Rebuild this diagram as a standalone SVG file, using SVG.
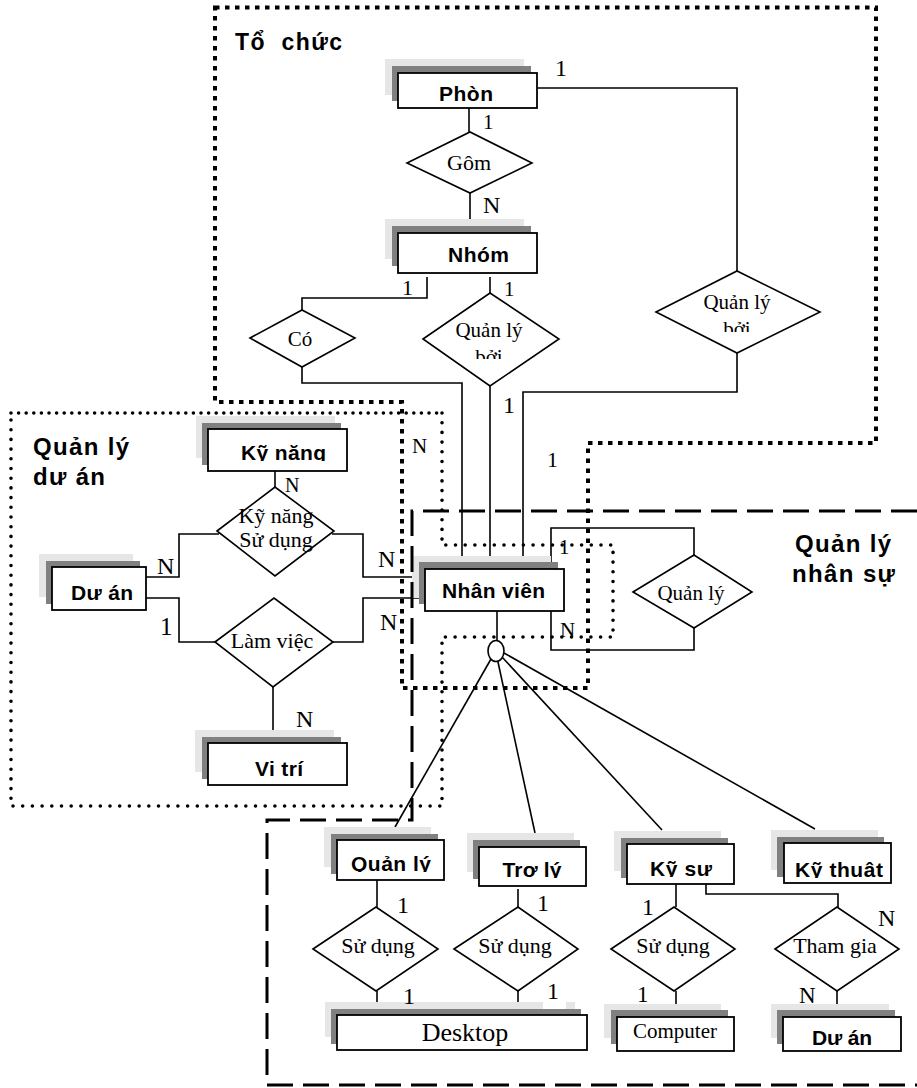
<svg xmlns="http://www.w3.org/2000/svg" width="917" height="1088" viewBox="0 0 917 1088">
<style>
.lt{fill:#e6e6e6}
.dk{fill:#808080}
.bx{fill:#fff;stroke:#000;stroke-width:1.8}
.dm{fill:#fff;stroke:#000;stroke-width:1.6}
.cn{fill:none;stroke:#000;stroke-width:1.6}
.b{font-family:"Liberation Sans",Arial,sans-serif;font-weight:bold;font-size:21px;text-anchor:middle;fill:#000}
.s{font-family:"Liberation Serif","Times New Roman",serif;font-size:21px;text-anchor:middle;fill:#000}
.c{font-family:"Liberation Serif","Times New Roman",serif;font-size:24px;fill:#000}
.r{font-family:"Liberation Sans",Arial,sans-serif;font-weight:bold;font-size:24px;fill:#000}
.sq{fill:none;stroke:#000;stroke-width:4;stroke-dasharray:4.5 5.5}
.rd{fill:none;stroke:#000;stroke-width:3.6;stroke-linecap:round}
.da{fill:none;stroke:#000;stroke-width:3;stroke-dasharray:26 10}
</style>
<defs>
<clipPath id="cpKN"><rect x="200" y="420" width="160" height="41"/></clipPath>
<clipPath id="cpQL"><rect x="330" y="830" width="120" height="42"/></clipPath>
<clipPath id="cpTL"><rect x="470" y="840" width="120" height="38"/></clipPath>
<clipPath id="cpKS"><rect x="620" y="840" width="120" height="37"/></clipPath>
<clipPath id="cpKT"><rect x="775" y="840" width="120" height="38"/></clipPath>
<clipPath id="cpQB1"><rect x="420" y="300" width="140" height="59"/></clipPath>
<clipPath id="cpQB2"><rect x="650" y="280" width="175" height="52"/></clipPath>
</defs>

<g id="connectors">
<path class="cn" d="M469,108 V132"/>
<path class="cn" d="M470,193 V233"/>
<path class="cn" d="M537,88 H737 V271"/>
<path class="cn" d="M737,353 V392 H523 V569"/>
<path class="cn" d="M427,277 V298 H302 V310"/>
<path class="cn" d="M302,367 V383 H462 V569"/>
<path class="cn" d="M490,277 V293"/>
<path class="cn" d="M490,386 V569"/>
<path class="cn" d="M275,471 V487"/>
<path class="cn" d="M219,534 H179 V577 H146"/>
<path class="cn" d="M332,534 H363 V577 H425"/>
<path class="cn" d="M146,598 H179 V642 H215"/>
<path class="cn" d="M333,642 H363 V598 H425"/>
<path class="cn" d="M273,687 V743"/>
<path class="cn" d="M551,569 V528 H694 V555"/>
<path class="cn" d="M694,628 V650 H551 V611"/>
<path class="cn" d="M497,611 V641"/>
<path class="cn" d="M491,659 L395,827"/>
<path class="cn" d="M498,662 L535,833"/>
<path class="cn" d="M502,657 L662,830"/>
<path class="cn" d="M504,653 L815,829"/>
<path class="cn" d="M377,880 V907"/>
<path class="cn" d="M377,991 V1015"/>
<path class="cn" d="M518,889 V907"/>
<path class="cn" d="M518,991 V1015"/>
<path class="cn" d="M676,884 V907"/>
<path class="cn" d="M706,884 V894 H838 V907"/>
<path class="cn" d="M676,991 V1017"/>
<path class="cn" d="M837,991 V1017"/>
</g>

<g id="rel-gom"><polygon class="dm" points="407,163 470,132 532,163 470,193"/><text class="s" x="469" y="170" style="font-size:22px">Gôm</text></g>
<g id="rel-co"><polygon class="dm" points="250,338 302,310 355,338 302,367"/><text class="s" x="300" y="346">Có</text></g>
<g id="rel-qlb-mid"><polygon class="dm" points="423,339 490,293 559,339 490,386"/><text class="s" clip-path="url(#cpQB1)"><tspan x="489" y="337">Quản lý</tspan><tspan x="489" y="364">bởi</tspan></text></g>
<g id="rel-qlb-right"><polygon class="dm" points="656,312 737,271 820,312 737,353"/><text class="s" clip-path="url(#cpQB2)"><tspan x="737" y="309">Quản lý</tspan><tspan x="737" y="336">bởi</tspan></text></g>
<g id="rel-knsd"><polygon class="dm" points="217,531 275,487 334,531 275,576"/><text class="s" style="font-size:22px"><tspan x="276" y="523">Kỹ năng</tspan><tspan x="276" y="547">Sử dụng</tspan></text></g>
<g id="rel-lamviec"><polygon class="dm" points="215,642 274,598 333,642 273,687"/><text class="s" x="272" y="648" style="font-size:22px">Làm việc</text></g>
<g id="rel-quanly"><polygon class="dm" points="633,592 694,555 752,592 694,628"/><text class="s" x="691" y="600">Quản lý</text></g>
<g id="rel-sd1"><polygon class="dm" points="313,949 376,907 438,949 376,991"/><text class="s" x="378" y="953" style="font-size:22px">Sử dụng</text></g>
<g id="rel-sd2"><polygon class="dm" points="454,949 518,907 578,949 518,991"/><text class="s" x="515" y="953" style="font-size:22px">Sử dụng</text></g>
<g id="rel-sd3"><polygon class="dm" points="611,949 674,907 735,949 674,991"/><text class="s" x="673" y="953" style="font-size:22px">Sử dụng</text></g>
<g id="rel-thamgia"><polygon class="dm" points="775,949 837,907 899,949 837,991"/><text class="s" x="835" y="953" style="font-size:22px">Tham gia</text></g>

<g id="isa"><ellipse cx="496" cy="651" rx="8" ry="10.5" fill="#fff" stroke="#000" stroke-width="1.6"/></g>

<g id="ent-phon"><rect class="lt" x="385" y="59" width="139" height="36"/><rect class="dk" x="392" y="66" width="139" height="35"/><rect class="bx" x="398" y="73" width="139" height="35"/><text class="b" x="466" y="101" textLength="54">Phòn</text></g>
<g id="ent-nhom"><rect class="lt" x="385" y="219" width="139" height="40"/><rect class="dk" x="392" y="226" width="139" height="40"/><rect class="bx" x="398" y="233" width="139" height="40"/><text class="b" x="478.5" y="262" textLength="61">Nhóm</text></g>
<g id="ent-kynang"><rect class="lt" x="196" y="416" width="139" height="42"/><rect class="dk" x="202" y="423" width="139" height="42"/><rect class="bx" x="208" y="429" width="139" height="42"/><text class="b" x="283.5" y="460" textLength="85" clip-path="url(#cpKN)">Kỹ năng</text></g>
<g id="ent-duan1"><rect class="lt" x="39" y="554" width="94" height="43"/><rect class="dk" x="46" y="561" width="94" height="43"/><rect class="bx" x="52" y="567" width="94" height="43"/><text class="b" x="102" y="600" textLength="62">Dư án</text></g>
<g id="ent-vitri"><rect class="lt" x="195" y="730" width="139" height="42"/><rect class="dk" x="202" y="737" width="139" height="42"/><rect class="bx" x="208" y="743" width="139" height="42"/><text class="b" x="279" y="776" textLength="48">Vi trí</text></g>
<g id="ent-nhanvien"><rect class="lt" x="412" y="556" width="139" height="42"/><rect class="dk" x="419" y="562" width="139" height="42"/><rect class="bx" x="425" y="569" width="139" height="42"/><text class="b" x="493.5" y="598" textLength="103">Nhân viên</text></g>
<g id="ent-quanly"><rect class="lt" x="324" y="827" width="107" height="40"/><rect class="dk" x="331" y="834" width="107" height="40"/><rect class="bx" x="337" y="840" width="107" height="40"/><text class="b" x="391" y="871" textLength="80" clip-path="url(#cpQL)">Quản lý</text></g>
<g id="ent-troly"><rect class="lt" x="467" y="833" width="107" height="39"/><rect class="dk" x="473" y="840" width="107" height="39"/><rect class="bx" x="479" y="847" width="107" height="39"/><text class="b" x="532" y="877" textLength="59" clip-path="url(#cpTL)">Trơ lý</text></g>
<g id="ent-kysu"><rect class="lt" x="614" y="831" width="107" height="40"/><rect class="dk" x="621" y="838" width="107" height="40"/><rect class="bx" x="627" y="844" width="107" height="40"/><text class="b" x="681" y="876" textLength="62" clip-path="url(#cpKS)">Kỹ sư</text></g>
<g id="ent-kythuat"><rect class="lt" x="771" y="830" width="107" height="40"/><rect class="dk" x="777" y="837" width="107" height="40"/><rect class="bx" x="784" y="843" width="107" height="40"/><text class="b" x="839" y="877" textLength="88" clip-path="url(#cpKT)">Kỹ thuât</text></g>
<g id="ent-desktop"><rect class="lt" x="325" y="1002" width="250" height="35"/><rect class="dk" x="331" y="1009" width="250" height="35"/><rect class="bx" x="337" y="1015" width="250" height="35"/><text class="s" x="465" y="1041" style="font-size:26px">Desktop</text></g>
<g id="ent-computer"><rect class="lt" x="604" y="1004" width="117" height="34"/><rect class="dk" x="611" y="1010" width="117" height="34"/><rect class="bx" x="617" y="1017" width="117" height="34"/><text class="s" x="675" y="1038">Computer</text></g>
<g id="ent-duan2"><rect class="lt" x="771" y="1004" width="118" height="34"/><rect class="dk" x="777" y="1010" width="118" height="34"/><rect class="bx" x="783" y="1017" width="118" height="34"/><text class="b" x="842" y="1045" textLength="60">Dư án</text></g>

<g id="regions">
<path class="sq" d="M215,7.5 H876 V443 H588 V688 H402 V402 H215 Z"/>
<path class="rd" stroke-dasharray="0 7.6" d="M11,413 H442"/>
<path class="rd" stroke-dasharray="0 9.7" d="M442,413 V545 H613 V637 H442 V806 H11 V413"/>
<path class="da" d="M917,511 H412 V820 H267 V1085 H917"/>
<text class="r" x="235" y="50" style="font-size:23px" textLength="107" xml:space="preserve">Tổ  chức</text>
<text class="r" x="33" y="455" textLength="96">Quản lý</text>
<text class="r" x="33" y="485" textLength="72">dư án</text>
<text class="r" x="795" y="552" textLength="96">Quản lý</text>
<text class="r" x="792" y="582" textLength="103">nhân sự</text>
</g>

<g id="cardinalities">
<text class="c" x="555" y="76">1</text>
<text class="c" x="483" y="129" style="font-size:21px">1</text>
<text class="c" x="483" y="213">N</text>
<text class="c" x="402" y="295" style="font-size:22px">1</text>
<text class="c" x="504" y="296" style="font-size:21px">1</text>
<text class="c" x="503" y="413">1</text>
<text class="c" x="412" y="453" style="font-size:21px">N</text>
<text class="c" x="547" y="467" style="font-size:22px">1</text>
<text class="c" x="559" y="554" style="font-size:21px">1</text>
<text class="c" x="560" y="637" style="font-size:21px">N</text>
<text class="c" x="285" y="492" style="font-size:20px">N</text>
<text class="c" x="157" y="574">N</text>
<text class="c" x="160" y="635" style="font-size:25px">1</text>
<text class="c" x="378" y="567">N</text>
<text class="c" x="380" y="630">N</text>
<text class="c" x="296" y="727">N</text>
<text class="c" x="397" y="913">1</text>
<text class="c" x="403" y="1004">1</text>
<text class="c" x="537" y="911">1</text>
<rect x="543" y="982" width="23" height="27" fill="#fff"/>
<text class="c" x="547" y="999">1</text>
<text class="c" x="642" y="915">1</text>
<text class="c" x="637" y="1002" style="font-size:23px">1</text>
<text class="c" x="878" y="926">N</text>
<text class="c" x="799" y="1003" style="font-size:23px">N</text>
</g>
</svg>
